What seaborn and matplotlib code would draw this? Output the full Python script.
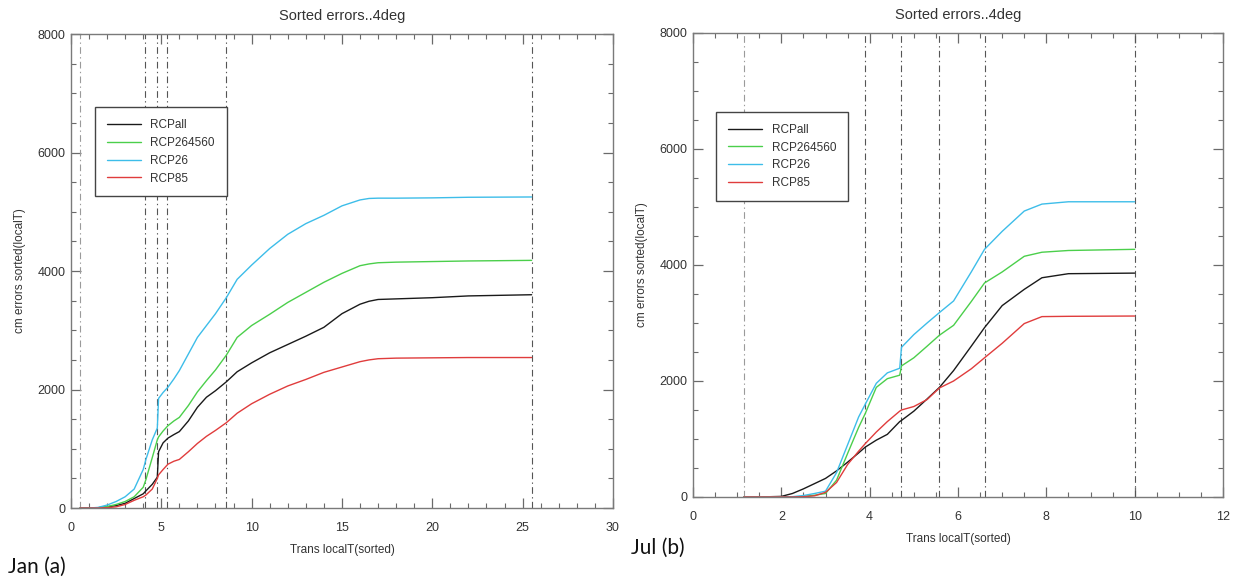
import matplotlib
matplotlib.use("Agg")
import matplotlib.pyplot as plt
from matplotlib.ticker import MultipleLocator
import pandas as pd
import seaborn as sns

# Scenario names and line colours
scenarios = ["RCPall", "RCP264560", "RCP26", "RCP85"]
colors = ["#1a1a1a", "#4bcf4b", "#3dbde9", "#e03c3c"]

# January: sorted transition local time vs cumulative error
jan_x = [0.5, 1.0, 1.5, 2.0, 2.5, 3.0, 3.5, 4.0, 4.15, 4.5, 4.78, 4.85, 5.1, 5.37,
         5.7, 6.0, 6.5, 7.0, 7.5, 8.0, 8.6, 9.2, 10.0, 11.0, 12.0, 13.0, 14.0,
         15.0, 16.0, 16.5, 17.0, 18.0, 20.0, 22.0, 25.5]
jan_rcpall = [0, 0, 5, 20, 40, 80, 160, 240, 290, 400, 520, 950, 1100, 1180,
              1240, 1290, 1470, 1700, 1870, 1980, 2130, 2300, 2450, 2620, 2760, 2900, 3050,
              3280, 3440, 3490, 3520, 3530, 3550, 3580, 3600]
jan_rcp264560 = [0, 0, 5, 25, 60, 110, 190, 350, 480, 850, 1150, 1200, 1300, 1390,
                 1470, 1530, 1730, 1960, 2150, 2330, 2580, 2880, 3080, 3270, 3470, 3640, 3810,
                 3960, 4090, 4120, 4140, 4150, 4160, 4170, 4180]
jan_rcp26 = [0, 0, 10, 50, 110, 190, 320, 650, 820, 1150, 1350, 1850, 1950, 2040,
             2180, 2320, 2600, 2880, 3080, 3280, 3550, 3860, 4100, 4380, 4620, 4800, 4940,
             5100, 5200, 5225, 5230, 5230, 5235, 5245, 5250]
jan_rcp85 = [0, 0, 0, 5, 20, 60, 130, 190, 220, 320, 500, 560, 650, 740,
             790, 820, 950, 1090, 1210, 1310, 1440, 1600, 1760, 1920, 2060, 2170, 2290,
             2380, 2470, 2500, 2520, 2530, 2535, 2540, 2540]
jan_marks = [0.5, 4.1, 4.75, 5.3, 8.6, 25.5]

# July
jul_x = [1.15, 1.5, 2.0, 2.25, 2.5, 2.75, 3.0, 3.25, 3.5, 3.75, 3.9, 4.15, 4.4,
         4.68, 4.72, 5.0, 5.3, 5.58, 5.9, 6.3, 6.6, 7.0, 7.5, 7.9, 8.5, 10.0]
jul_rcpall = [0, 0, 10, 60, 140, 230, 320, 450, 600, 760, 860, 980, 1080,
              1300, 1320, 1480, 1690, 1890, 2180, 2600, 2920, 3300, 3580, 3780, 3850, 3860]
jul_rcp264560 = [0, 0, 0, 0, 10, 30, 60, 290, 750, 1200, 1440, 1890, 2040,
                 2100, 2260, 2400, 2600, 2790, 2960, 3370, 3690, 3880, 4150, 4220, 4250, 4270]
jul_rcp26 = [0, 0, 0, 5, 25, 60, 100, 420, 900, 1380, 1600, 1960, 2140,
             2220, 2580, 2800, 3000, 3180, 3380, 3880, 4270, 4580, 4930, 5050, 5090, 5090]
jul_rcp85 = [0, 0, 0, 0, 5, 20, 80, 250, 560, 790, 920, 1120, 1300,
             1480, 1500, 1560, 1680, 1880, 2000, 2210, 2400, 2650, 2990, 3110, 3115, 3120]
jul_marks = [1.15, 3.9, 4.72, 5.58, 6.6, 10.0]

x_label = "Trans localT(sorted)"
y_label = "cm errors sorted(localT)"
title = "Sorted errors..4deg"

sns.set_theme(style="white")
plt.rcParams["font.family"] = ["Liberation Sans", "DejaVu Sans"]
plt.rcParams["axes.edgecolor"] = "#7a7a7a"
plt.rcParams["text.color"] = "#333333"
plt.rcParams["axes.labelcolor"] = "#333333"


def long_frame(x, series):
    parts = []
    for name, ys in zip(scenarios, series):
        parts.append(pd.DataFrame({"x": x, "y": ys, "scenario": name}))
    return pd.concat(parts, ignore_index=True)


fig = plt.figure(figsize=(12.34, 5.84), dpi=100)
ax_jan = fig.add_axes([0.0575, 0.1301, 0.4392, 0.8116])
ax_jul = fig.add_axes([0.5616, 0.1490, 0.4295, 0.7945])

panels = [
    (ax_jan, jan_x, [jan_rcpall, jan_rcp264560, jan_rcp26, jan_rcp85], jan_marks,
     (0, 30), 5, 1, (0.0443, 0.846)),
    (ax_jul, jul_x, [jul_rcpall, jul_rcp264560, jul_rcp26, jul_rcp85], jul_marks,
     (0, 12), 2, 0.5, (0.0434, 0.830)),
]

for ax, xs, series, marks, xlim, xmaj, xmin, leg_anchor in panels:
    df = long_frame(xs, series)
    sns.lineplot(data=df, x="x", y="y", hue="scenario", hue_order=scenarios,
                 palette=dict(zip(scenarios, colors)), estimator=None,
                 linewidth=1.0, ax=ax)
    for i, m in enumerate(marks):
        ax.axvline(m, color="#9a9a9a" if i == 0 else "#555555", linewidth=0.8,
                   linestyle=(0, (6, 3, 1.2, 3)), zorder=1)

    ax.set_xlim(*xlim)
    ax.set_ylim(0, 8000)
    ax.xaxis.set_major_locator(MultipleLocator(xmaj))
    ax.xaxis.set_minor_locator(MultipleLocator(xmin))
    ax.yaxis.set_major_locator(MultipleLocator(2000))
    ax.yaxis.set_minor_locator(MultipleLocator(500))
    ax.tick_params(which="both", direction="in", top=True, right=True,
                   bottom=True, left=True,
                   color="#6a6a6a", labelcolor="#333333", labelsize=9)
    ax.tick_params(which="major", length=7, width=0.9)
    ax.tick_params(which="minor", length=3.6, width=0.8)
    ax.tick_params(axis="x", which="major", pad=10)
    ax.tick_params(axis="y", which="major", pad=4)
    for s in ax.spines.values():
        s.set_linewidth(1.0)
        s.set_color("#7a7a7a")

    ax.set_title(title, fontsize=10.5, color="#333333", pad=10)
    ax.set_xlabel(x_label, fontsize=8.5, labelpad=7)
    ax.set_ylabel(y_label, fontsize=8.5, labelpad=8)

    leg = ax.get_legend()
    handles = leg.legend_handles
    labels = [t.get_text() for t in leg.get_texts()]
    leg.remove()
    new_leg = ax.legend(handles, labels, loc="upper left", bbox_to_anchor=leg_anchor,
                        borderaxespad=0, frameon=True, fancybox=False, framealpha=1,
                        edgecolor="#444444", fontsize=8.5, borderpad=1.0,
                        labelspacing=0.5, handlelength=2.9, handletextpad=0.8)
    new_leg.get_frame().set_linewidth(1.0)
    for t in new_leg.get_texts():
        t.set_color("#333333")

fig.text(0.0065, 0.019, "Jan (a)", fontsize=15, family=["Lato", "DejaVu Sans"],
         color="#111111", ha="left", va="baseline")
fig.text(0.5113, 0.052, "Jul (b)", fontsize=15, family=["Lato", "DejaVu Sans"],
         color="#111111", ha="left", va="baseline")

fig.savefig("out.png", dpi=100, facecolor="white")
